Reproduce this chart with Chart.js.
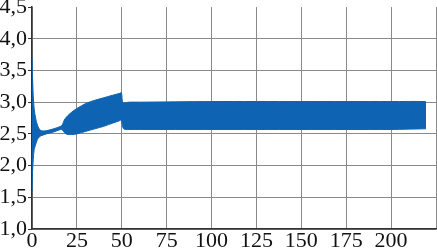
<!DOCTYPE html>
<html>
<head>
<meta charset="utf-8">
<script src="https://cdn.jsdelivr.net/npm/chart.js@4/dist/chart.umd.min.js"></script>
<style>
  html, body { margin: 0; padding: 0; background: #ffffff; }
  #wrap { width: 437px; height: 251px; }
</style>
</head>
<body>
<div id="wrap"><canvas id="chart"></canvas></div>
<script>
// envelope of the oscillating signal (time, upper bound, lower bound)
const envTime = [0, 0.3, 0.7, 1.2, 2, 3, 4, 5, 8, 12, 16, 17, 18, 19, 20, 22, 25, 30, 35, 40, 45, 49, 49.8, 50.4, 51, 52, 54, 60, 100, 150, 200, 219, 219.5];
const envUpper = [3.7, 3.4, 3.1, 2.9, 2.75, 2.64, 2.58, 2.55, 2.55, 2.58, 2.62, 2.65, 2.72, 2.76, 2.79, 2.84, 2.9, 2.98, 3.03, 3.07, 3.11, 3.14, 3.15, 3.0, 2.99, 2.99, 3.0, 3.0, 3.01, 3.01, 3.01, 3.01, 3.0];
const envLower = [1.6, 1.9, 2.1, 2.25, 2.33, 2.41, 2.45, 2.47, 2.5, 2.53, 2.57, 2.56, 2.52, 2.5, 2.49, 2.49, 2.5, 2.54, 2.58, 2.62, 2.67, 2.71, 2.72, 2.62, 2.58, 2.57, 2.57, 2.57, 2.57, 2.57, 2.57, 2.58, 2.58];

const xTicks = [0, 25, 50, 75, 100, 125, 150, 175, 200, 225];
const yTicks = [1.0, 1.5, 2.0, 2.5, 3.0, 3.5, 4.0, 4.5];

const bandColor = "#0e64b2";

const toPoints = (vals) => envTime.map((t, i) => ({ x: t, y: vals[i] }));

new Chart(document.getElementById("chart"), {
  type: "line",
  data: {
    datasets: [
      {
        label: "lower",
        data: toPoints(envLower),
        borderColor: bandColor,
        borderWidth: 1,
        pointRadius: 0,
        tension: 0.3,
        fill: false
      },
      {
        label: "upper",
        data: toPoints(envUpper),
        borderColor: bandColor,
        borderWidth: 1,
        backgroundColor: bandColor,
        pointRadius: 0,
        tension: 0.3,
        fill: "-1"
      }
    ]
  },
  options: {
    responsive: true,
    maintainAspectRatio: false,
    animation: false,
    layout: { padding: { top: 0, right: 1 } },
    plugins: {
      legend: { display: false },
      tooltip: { enabled: false }
    },
    scales: {
      x: {
        type: "linear",
        min: 0,
        max: 225,
        afterBuildTicks: (scale) => { scale.ticks = xTicks.map((v) => ({ value: v })); },
        afterFit: (scale) => { scale.height = 22; },
        grid: { color: "#8a8a8a", lineWidth: 1, drawTicks: false },
        border: { color: "#333333", width: 1.5 },
        ticks: {
          autoSkip: false,
          maxRotation: 0,
          padding: 1,
          color: "#111111",
          font: { family: "Liberation Serif", size: 22, lineHeight: 1 },
          callback: (v) => (v === 225 ? "" : String(v))
        }
      },
      y: {
        min: 1,
        max: 4.5,
        afterBuildTicks: (scale) => { scale.ticks = yTicks.map((v) => ({ value: v })); },
        afterFit: (scale) => { scale.width = 32; },
        grid: {
          color: (ctx) => (ctx.tick && ctx.tick.value === 4.5 ? "rgba(0,0,0,0)" : "#8a8a8a"),
          tickColor: "#333333",
          tickLength: 4,
          lineWidth: 1,
          drawTicks: true
        },
        border: { color: "#333333", width: 1.5 },
        ticks: {
          padding: 1,
          color: "#111111",
          font: { family: "Liberation Serif", size: 22, lineHeight: 0.55 },
          callback: (v) => v.toFixed(1).replace(".", ",")
        }
      }
    }
  }
});
</script>
</body>
</html>
